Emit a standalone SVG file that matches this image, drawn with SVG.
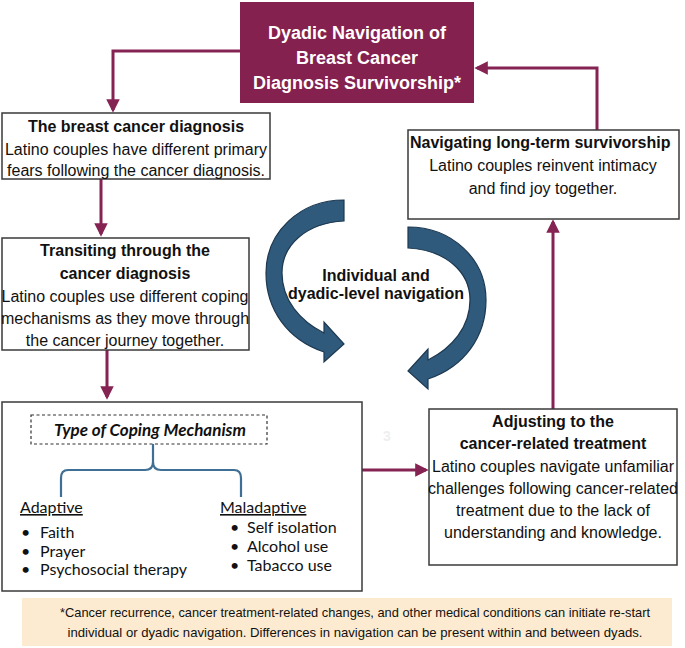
<svg xmlns="http://www.w3.org/2000/svg" width="685" height="648" viewBox="0 0 685 648">
<defs>
<style>
.box{fill:#fff;stroke:#3a3a3a;stroke-width:1.5}
.t{font-family:"Liberation Sans",Arial,sans-serif;font-size:16px;fill:#111;text-anchor:middle}
.b{font-weight:bold}
.conn{fill:none;stroke:#852353;stroke-width:3}
.cal{font-family:Lato,"Open Sans",sans-serif;font-size:16px;fill:#111}
.curve{fill:#2f5a7c;stroke:#1c3850;stroke-width:1.2}
</style>
<marker id="ah" viewBox="0 0 10 10" refX="8" refY="5" markerWidth="4.5" markerHeight="4.5" orient="auto" markerUnits="strokeWidth">
<path d="M0,0 L10,5 L0,10 z" fill="#852353"/>
</marker>
</defs>
<rect width="685" height="648" fill="#fff"/>

<g id="connectors">
<path class="conn" d="M240,51 H113 V110" marker-end="url(#ah)"/>
<path class="conn" d="M101,179 V234" marker-end="url(#ah)"/>
<path class="conn" d="M107,350 V397" marker-end="url(#ah)"/>
<path class="conn" d="M362,470 H426" marker-end="url(#ah)"/>
<path class="conn" d="M553,409 V222" marker-end="url(#ah)"/>
<path class="conn" d="M597,130 V68 H477" marker-end="url(#ah)"/>
</g>

<g id="title">
<rect x="240" y="2" width="234" height="101" fill="#84214f"/>
<text class="t b" x="357" y="39" style="fill:#fff;font-size:18px">Dyadic Navigation of</text>
<text class="t b" x="357" y="64" style="fill:#fff;font-size:18px">Breast Cancer</text>
<text class="t b" x="357" y="89" style="fill:#fff;font-size:18px">Diagnosis Survivorship*</text>
</g>

<g id="diagnosis">
<rect class="box" x="2" y="113" width="268" height="66"/>
<text class="t b" x="136" y="132">The breast cancer diagnosis</text>
<text class="t" x="136" y="155">Latino couples have different primary</text>
<text class="t" x="136" y="176">fears following the cancer diagnosis.</text>
</g>

<g id="transiting">
<rect class="box" x="2" y="238" width="247" height="112"/>
<text class="t b" x="125" y="256">Transiting through the</text>
<text class="t b" x="125" y="279">cancer diagnosis</text>
<text class="t" x="125" y="302">Latino couples use different coping</text>
<text class="t" x="125" y="324">mechanisms as they move through</text>
<text class="t" x="125" y="346">the cancer journey together.</text>
</g>

<g id="navigation">
<path class="curve" d="M344,200 L344,221 C306,223 282,245 282,273 C282,300 300,321 324,333 L324,322 L344,344 L324,362 L324,352 C288,340 266,310 266,273 C266,232 300,200 344,200 Z"/>
<path class="curve" d="M408,227 L408,248 C446,250 470,272 470,300 C470,327 452,348 428,360 L428,349 L408,371 L428,389 L428,379 C464,367 486,337 486,300 C486,259 452,227 408,227 Z"/>
<text class="t b" x="376" y="281">Individual and</text>
<text class="t b" x="376" y="299">dyadic-level navigation</text>
</g>

<g id="coping">
<rect class="box" x="2" y="402" width="360" height="189"/>
<rect x="31" y="415" width="236" height="29" fill="none" stroke="#333" stroke-width="1.2" stroke-dasharray="3,2.5"/>
<text class="cal" x="150" y="436" text-anchor="middle" font-weight="bold" font-style="italic" style="font-size:17px">Type of Coping Mechanism</text>
<path d="M153,444 V462 Q153,470 145,470 H68 Q61,470 61,478 V497 M153,462 Q153,470 161,470 H234 Q241,470 241,478 V497" fill="none" stroke="#3f6f95" stroke-width="2.2"/>
<text class="cal" x="20" y="513" text-decoration="underline">Adaptive</text>
<text class="cal" x="21" y="538">•</text>
<text class="cal" x="40" y="538">Faith</text>
<text class="cal" x="21" y="557">•</text>
<text class="cal" x="40" y="557">Prayer</text>
<text class="cal" x="21" y="575">•</text>
<text class="cal" x="40" y="575">Psychosocial therapy</text>
<text class="cal" x="220" y="513" text-decoration="underline">Maladaptive</text>
<text class="cal" x="230" y="533">•</text>
<text class="cal" x="247" y="533">Self isolation</text>
<text class="cal" x="230" y="552">•</text>
<text class="cal" x="247" y="552">Alcohol use</text>
<text class="cal" x="230" y="571">•</text>
<text class="cal" x="247" y="571">Tabacco use</text>
</g>

<text class="t b" x="387" y="441" style="fill:#efefef;font-size:14px">3</text>

<g id="adjusting">
<rect class="box" x="429" y="409" width="248" height="156"/>
<text class="t b" x="553" y="427">Adjusting to the</text>
<text class="t b" x="553" y="449">cancer-related treatment</text>
<text class="t" x="553" y="472">Latino couples navigate unfamiliar</text>
<text class="t" x="553" y="494">challenges following cancer-related</text>
<text class="t" x="553" y="516">treatment due to the lack of</text>
<text class="t" x="553" y="538">understanding and knowledge.</text>
</g>

<g id="survivorship">
<rect class="box" x="408" y="130" width="271" height="89"/>
<text class="t b" x="410" y="148" style="text-anchor:start">Navigating long-term survivorship</text>
<text class="t" x="543" y="171">Latino couples reinvent intimacy</text>
<text class="t" x="543" y="194">and find joy together.</text>
</g>

<g id="footnote">
<rect x="22" y="598" width="650" height="48" fill="#fcebd0"/>
<text class="t" x="355" y="617" style="font-size:13.5px" textLength="590" lengthAdjust="spacingAndGlyphs">*Cancer recurrence, cancer treatment-related changes, and other medical conditions can initiate re-start</text>
<text class="t" x="355" y="637" style="font-size:13.5px" textLength="575" lengthAdjust="spacingAndGlyphs">individual or dyadic navigation. Differences in navigation can be present within and between dyads.</text>
</g>
</svg>
